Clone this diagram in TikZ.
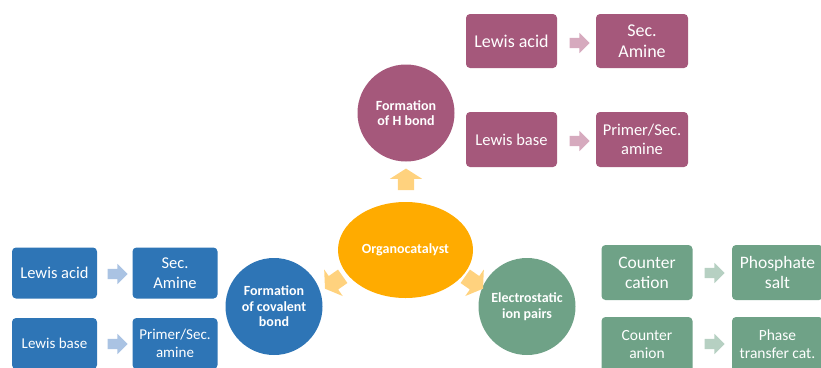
\documentclass[tikz,border=0pt]{standalone}
\usepackage{fontspec}
\setmainfont{Carlito}
\usetikzlibrary{positioning,shapes.geometric,shapes.arrows}
\definecolor{hpink}{HTML}{A5587B}
\definecolor{hpinklt}{HTML}{D6AABE}
\definecolor{cblue}{HTML}{2E75B6}
\definecolor{cbluelt}{HTML}{AAC3E3}
\definecolor{egreen}{HTML}{6FA287}
\definecolor{egreenlt}{HTML}{B6D0C2}
\definecolor{orgcat}{HTML}{FFAB00}
\definecolor{orgcatlt}{HTML}{FFD27E}
\tikzset{
  box/.style={rounded corners=4pt,inner sep=0pt,align=center,text=white},
  disc/.style={circle,inner sep=0pt,minimum size=97pt,align=center,text=white,
    font=\fontsize{14}{15.5}\selectfont\bfseries},
  smallarrow/.style={single arrow,inner sep=5pt,single arrow head extend=5pt,
    minimum height=20pt,minimum width=0pt},
  fatarrow/.style={single arrow,inner sep=8pt,single arrow head extend=8pt,
    single arrow tip angle=115,minimum height=21pt,minimum width=0pt,fill=orgcatlt}
}

\begin{document}
\begin{tikzpicture}[x=1pt,y=-1pt]
\path[use as bounding box,clip] (0,0) rectangle (821,367);
% centre and the three groups
\node[ellipse,fill=orgcat,minimum width=135pt,minimum height=96pt,text=white,
  font=\fontsize{14}{15}\selectfont\bfseries] (cat) at (405.5,250) {Organocatalyst};
\node[disc,fill=hpink] (hbond) at (406,113) {Formation\\of H bond};
\node[disc,fill=cblue] (cov) at (274,306.5) {Formation\\of covalent\\bond};
\node[disc,fill=egreen] (ion) at (527,306.5) {Electrostatic\\ion pairs};
\node[fatarrow,rotate=90] (up) at (406,182) {};
\node[fatarrow,rotate=215] (dl) at (336,281) {};
\node[fatarrow,rotate=325] (dr) at (472,281) {};
% H bond
\node[box,fill=hpink,minimum width=91pt,minimum height=54pt,font=\fontsize{18}{20.5}\selectfont] (hacid) at (511.5,41) {Lewis acid};
\node[box,fill=hpink,minimum width=92pt,minimum height=54pt,font=\fontsize{18}{20.5}\selectfont] (hsec) at (642,41) {Sec.\\Amine};
\node[box,fill=hpink,minimum width=91pt,minimum height=55pt,font=\fontsize{16.5}{19}\selectfont] (hbase) at (511.5,139.5) {Lewis base};
\node[box,fill=hpink,minimum width=92pt,minimum height=55pt,font=\fontsize{16.5}{19}\selectfont] (hprim) at (642,139.5) {Primer/Sec.\\amine};
\node[smallarrow,fill=hpinklt] (ha1) at (577,43) {};
\node[smallarrow,fill=hpinklt] (ha2) at (577,141) {};
% covalent bond
\node[box,fill=cblue,minimum width=85pt,minimum height=51pt,font=\fontsize{16.5}{19.5}\selectfont] (cacid) at (54.5,273) {Lewis acid};
\node[box,fill=cblue,minimum width=85pt,minimum height=51pt,font=\fontsize{16.5}{19.5}\selectfont] (csec) at (175,273) {Sec.\\Amine};
\node[box,fill=cblue,minimum width=85pt,minimum height=51pt,font=\fontsize{15}{18}\selectfont] (cbase) at (54.5,343.5) {Lewis base};
\node[box,fill=cblue,minimum width=85pt,minimum height=51pt,font=\fontsize{15}{18}\selectfont] (cprim) at (175,343.5) {Primer/Sec.\\amine};
\node[smallarrow,fill=cbluelt] (ca1) at (115,274) {};
\node[smallarrow,fill=cbluelt] (ca2) at (115,344) {};
% ion pairs
\node[box,fill=egreen,minimum width=91pt,minimum height=55pt,font=\fontsize{17.5}{20}\selectfont] (ecat) at (647,272.5) {Counter\\cation};
\node[box,fill=egreen,minimum width=91pt,minimum height=55pt,font=\fontsize{17.5}{20}\selectfont] (ephos) at (777.5,272.5) {Phosphate\\salt};
\node[box,fill=egreen,minimum width=91pt,minimum height=55pt,font=\fontsize{15.5}{18}\selectfont] (ean) at (647,344.5) {Counter\\anion};
\node[box,fill=egreen,minimum width=91pt,minimum height=55pt,font=\fontsize{15.5}{18}\selectfont] (ephase) at (777.5,344.5) {Phase\\transfer cat.};
\node[smallarrow,fill=egreenlt] (ea1) at (712,273) {};
\node[smallarrow,fill=egreenlt] (ea2) at (712,344) {};
\end{tikzpicture}
\end{document}
